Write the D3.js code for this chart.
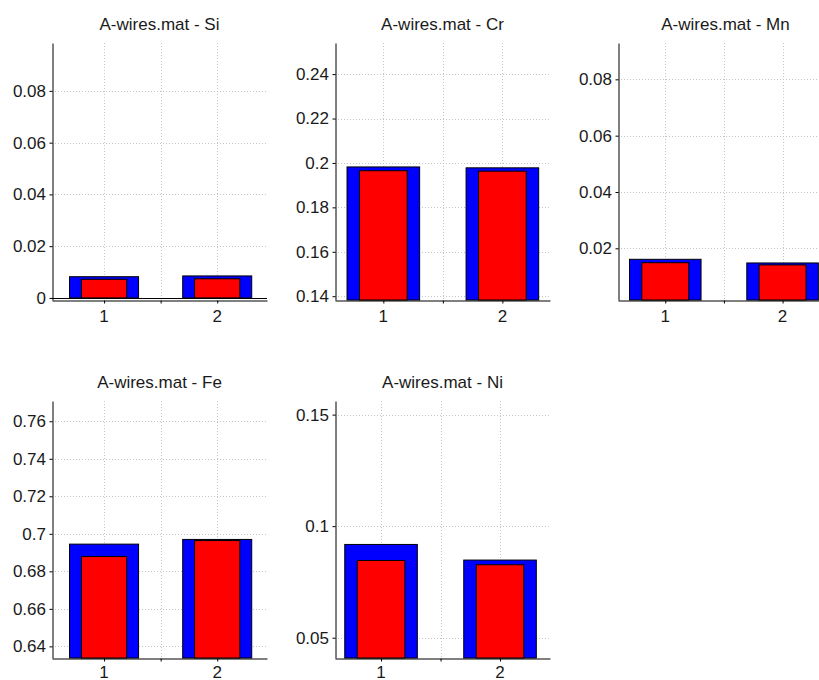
<!DOCTYPE html>
<html>
<head>
<meta charset="utf-8">
<script src="https://cdn.jsdelivr.net/npm/d3@7"></script>
<style>
  html, body { margin: 0; padding: 0; background: #fff; }
  svg { display: block; }
</style>
</head>
<body>
<svg id="chart" width="819" height="680"></svg>
<script>
// ---- data ----
const fileName = "A-wires.mat";
const elements = ["Si", "Cr", "Mn", "Fe", "Ni"];
const samples = [1, 2];
const xTickValues = [1, 1.5, 2];
const xTickLabels = ["1", "", "2"];

// wide (blue) bars and narrow (red) bars, one pair per sample
const outerValues = [
  [0.0082, 0.0085],
  [0.1982, 0.1978],
  [0.0161, 0.0148],
  [0.6945, 0.6970],
  [0.0918, 0.0848]
];
const innerValues = [
  [0.0072, 0.0074],
  [0.1965, 0.1963],
  [0.0149, 0.0141],
  [0.6879, 0.6964],
  [0.0846, 0.0827]
];

const yTickValues = [
  [0, 0.02, 0.04, 0.06, 0.08],
  [0.14, 0.16, 0.18, 0.2, 0.22, 0.24],
  [0.02, 0.04, 0.06, 0.08],
  [0.64, 0.66, 0.68, 0.7, 0.72, 0.74, 0.76],
  [0.05, 0.1, 0.15]
];
const yLimits = [
  [-0.0008, 0.0985],
  [0.1383, 0.254],
  [0.00165, 0.0929],
  [0.6338, 0.7708],
  [0.0409, 0.1561]
];
const xLimits = [
  [0.54, 2.44],
  [0.594, 2.40],
  [0.597, 2.43],
  [0.54, 2.44],
  [0.613, 2.42]
];

// ---- layout ----
const panelOrigins = [
  [52, 43], [335, 43], [618, 43],
  [52, 401], [335, 401]
];
const plotW = 215, plotH = 257;
const outerWidth = 0.61, innerWidth = 0.40;
const fontSize = 17;
const fontFamily = "Liberation Sans, Arial, sans-serif";
const textColor = "#1a1a1a";

const svg = d3.select("#chart");

function styleText(sel) {
  return sel.attr("font-family", fontFamily).attr("font-size", fontSize).attr("fill", textColor);
}

elements.forEach((el, i) => {
  const [left, top] = panelOrigins[i];
  const right = left + plotW, bottom = top + plotH;
  const x = d3.scaleLinear().domain(xLimits[i]).range([left, right]);
  const y = d3.scaleLinear().domain(yLimits[i]).range([bottom, top]);
  const g = svg.append("g").attr("class", "panel-" + el);

  // dotted grid
  const grid = g.append("g")
    .attr("stroke", "#c4c4c4").attr("stroke-width", 1).attr("stroke-dasharray", "1,2")
    .attr("shape-rendering", "crispEdges");
  grid.selectAll("line.v").data(xTickValues).join("line").attr("class", "v")
    .attr("x1", d => Math.round(x(d)) + 0.5).attr("x2", d => Math.round(x(d)) + 0.5)
    .attr("y1", top).attr("y2", bottom);
  grid.selectAll("line.h").data(yTickValues[i]).join("line").attr("class", "h")
    .attr("x1", left).attr("x2", right)
    .attr("y1", d => Math.round(y(d)) + 0.5).attr("y2", d => Math.round(y(d)) + 0.5);

  // bars rise from the zero baseline; where zero lies below the box they start at its floor
  const y0 = y(0);
  const floor = Math.min(y0, bottom);
  const bars = g.append("g");
  bars.selectAll("rect.outer").data(samples).join("rect").attr("class", "outer")
    .attr("x", s => x(s - outerWidth / 2))
    .attr("width", x(outerWidth) - x(0))
    .attr("y", (s, j) => y(outerValues[i][j]))
    .attr("height", (s, j) => floor - y(outerValues[i][j]))
    .attr("fill", "#0000ff").attr("stroke", "#000").attr("stroke-width", 1);
  bars.selectAll("rect.inner").data(samples).join("rect").attr("class", "inner")
    .attr("x", s => x(s - innerWidth / 2))
    .attr("width", x(innerWidth) - x(0))
    .attr("y", (s, j) => y(innerValues[i][j]))
    .attr("height", (s, j) => floor - y(innerValues[i][j]))
    .attr("fill", "#ff0000").attr("stroke", "#000").attr("stroke-width", 1);

  // baseline at zero when it falls inside the box
  if (y0 >= top && y0 <= bottom) {
    g.append("line")
      .attr("x1", left).attr("x2", right)
      .attr("y1", Math.round(y0) + 0.5).attr("y2", Math.round(y0) + 0.5)
      .attr("stroke", "#000").attr("stroke-width", 1);
  }

  // axis lines and tick marks
  const yAxis = g.append("g").attr("transform", `translate(${left + 0.5},0)`)
    .call(d3.axisLeft(y).tickValues(yTickValues[i]).tickFormat("")
      .tickSize(3).tickSizeOuter(0));
  const xAxis = g.append("g").attr("transform", `translate(0,${bottom + 0.5})`)
    .call(d3.axisBottom(x).tickValues(xTickValues).tickFormat("")
      .tickSize(3).tickSizeOuter(0));
  [yAxis, xAxis].forEach(a => {
    a.selectAll(".tick text").remove();
    a.select(".domain").attr("stroke", "#000");
    a.selectAll(".tick line").attr("stroke", "#000");
  });

  // tick labels placed from the same scales
  g.selectAll("text.ylabel").data(yTickValues[i]).join("text").attr("class", "ylabel")
    .call(styleText)
    .attr("text-anchor", "end")
    .attr("x", left - 6)
    .attr("y", d => y(d) + fontSize * 0.35)
    .text(d => String(d));
  const xLabelY = bottom + (top > 200 ? 20 : 22);
  g.selectAll("text.xlabel").data(xTickValues.filter((d, k) => xTickLabels[k] !== "")).join("text")
    .attr("class", "xlabel")
    .call(styleText)
    .attr("text-anchor", "middle")
    .attr("x", d => x(d))
    .attr("y", xLabelY)
    .text(d => xTickLabels[xTickValues.indexOf(d)]);

  // panel title
  g.append("text")
    .call(styleText)
    .attr("x", left + plotW / 2).attr("y", top - 13)
    .attr("text-anchor", "middle")
    .text(`${fileName} - ${el}`);
});
</script>
</body>
</html>
